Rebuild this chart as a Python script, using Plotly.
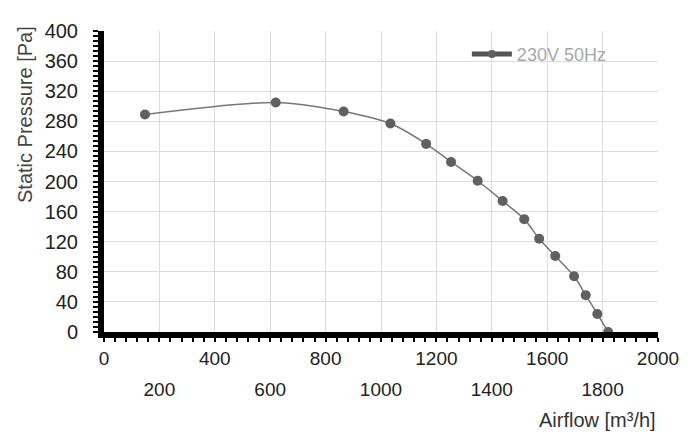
import plotly.graph_objects as go

# Data
airflow = [148, 620, 865, 1034, 1163, 1253, 1349, 1439, 1517, 1571, 1629, 1697, 1739, 1781, 1820]
pressure = [289, 305, 293, 277, 250, 226, 201, 174, 150, 124, 101, 74, 49, 24, 0]
series_name = "230V 50Hz"

x_top_ticks = [0, 400, 800, 1200, 1600, 2000]
x_bottom_ticks = [200, 600, 1000, 1400, 1800]
x_grid = sorted(x_top_ticks + x_bottom_ticks)
y_ticks = list(range(0, 401, 40))

FONT = "Liberation Sans, Arial, Helvetica, sans-serif"
MARK = "#606060"

fig = go.Figure()
fig.add_trace(go.Scatter(
    x=airflow, y=pressure, mode="lines+markers",
    line=dict(color="#777777", width=1.5, shape="spline", smoothing=0.8),
    marker=dict(color=MARK, size=10),
    showlegend=False, cliponaxis=False,
))
# legend-only entry (thick line with marker) placed on the secondary x axis
fig.add_trace(go.Scatter(
    x=[None], y=[None], mode="lines+markers", name=series_name,
    line=dict(color="#555555", width=5), marker=dict(color=MARK, size=8),
    xaxis="x2", showlegend=True,
))

fig.update_layout(
    width=700, height=448,
    margin=dict(l=96, r=50, t=16, b=124),
    paper_bgcolor="white", plot_bgcolor="white",
    font=dict(family=FONT, size=19, color="#222222"),
    xaxis=dict(
        range=[0, 2000], tickmode="array", tickvals=x_grid,
        ticktext=[str(v) if v in x_top_ticks else "" for v in x_grid],
        showgrid=True, gridcolor="#dcdcdc", gridwidth=1,
        showline=True, linecolor="black", linewidth=6,
        ticks="outside", ticklen=4, tickwidth=1.5, tickcolor="black",
        minor=dict(dtick=40, ticks="outside", ticklen=4, tickwidth=1.5,
                   tickcolor="black", showgrid=False),
        zeroline=False, fixedrange=True,
    ),
    xaxis2=dict(
        range=[0, 2000], overlaying="x", anchor="y", side="bottom",
        tickmode="array", tickvals=x_bottom_ticks,
        ticktext=[str(v) for v in x_bottom_ticks],
        showgrid=False, showline=False, zeroline=False, ticks="",
        ticklabelstandoff=44,
    ),
    yaxis=dict(
        range=[0, 400], tickmode="array", tickvals=y_ticks,
        showgrid=True, gridcolor="#dcdcdc", gridwidth=1,
        showline=True, linecolor="black", linewidth=6,
        ticks="outside", ticklen=5, tickwidth=1.5, tickcolor="black",
        minor=dict(dtick=40 / 6, ticks="outside", ticklen=5, tickwidth=1.5,
                   tickcolor="black", showgrid=False),
        zeroline=False, fixedrange=True, ticklabelstandoff=11,
        tickfont=dict(size=20),
    ),
    legend=dict(
        x=0.655, y=0.923, xanchor="left", yanchor="middle",
        bgcolor="rgba(0,0,0,0)", font=dict(size=18, color="#a8a8a8"),
        itemwidth=40,
    ),
    annotations=[
        dict(text="Airflow [m³/h]", xref="paper", yref="paper", x=1, y=0,
             xanchor="right", yanchor="middle", yshift=-88, showarrow=False,
             font=dict(size=20, color="#333333")),
        dict(text="Static Pressure [Pa]", xref="paper", yref="paper", x=0,
             y=1, xanchor="center", yanchor="middle", xshift=-79, yshift=-84,
             textangle=-90, showarrow=False,
             font=dict(size=20, color="#444444")),
    ],
)

fig.write_html("out.html")
